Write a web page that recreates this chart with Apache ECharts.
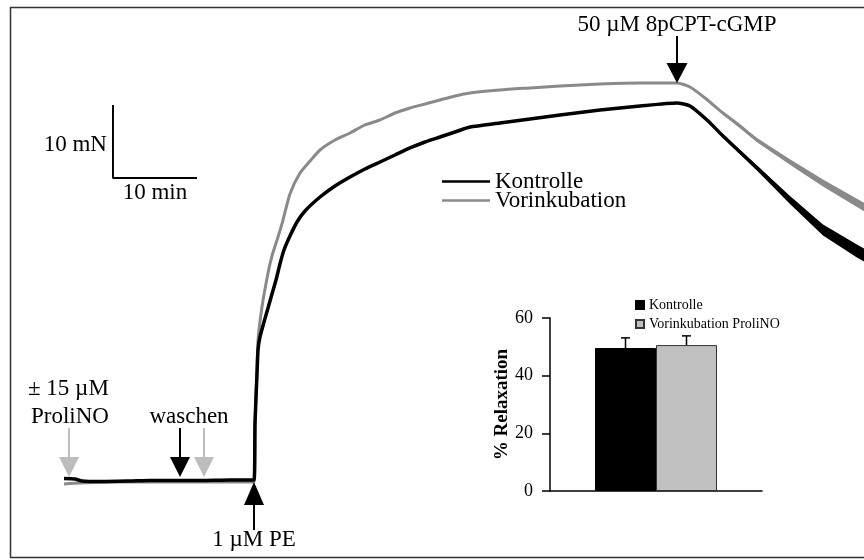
<!DOCTYPE html>
<html>
<head>
<meta charset="utf-8">
<script src="https://cdn.jsdelivr.net/npm/echarts@6/dist/echarts.min.js"></script>
<style>
  html, body { margin: 0; padding: 0; background: #fff; }
  #chart { width: 864px; height: 560px; }
</style>
</head>
<body>
<div id="chart"></div>
<script>
// Isometrische Kraftmessung: Kraft (mN) gegen Zeit (min)
const kontrolleTrace = [
  [0, 0.34], [1.31, 0.27], [2.14, 0], [4.29, -0.07], [7.86, 0], [10.24, 0.07],
  [16.19, 0.07], [19.76, 0.14], [22.62, 0.14], [22.74, 7.95], [22.98, 14.79],
  [23.10, 17.95], [23.33, 19.73], [23.81, 21.78], [24.29, 23.70], [24.76, 25.62],
  [25.24, 27.53], [25.71, 29.73], [26.19, 31.64], [26.90, 33.56], [27.74, 35.48],
  [28.69, 36.99], [30.48, 38.90],
  [32.26, 40.41], [34.05, 41.64], [35.83, 42.74], [37.62, 43.70], [39.40, 44.66],
  [41.19, 45.62], [42.98, 46.44], [44.76, 47.12], [46.55, 47.81], [48.33, 48.49],
  [51.90, 49.04], [55.48, 49.59], [59.05, 50.14], [63.81, 50.82], [68.57, 51.37],
  [72.98, 51.78], [74.52, 51.37], [76.55, 49.45], [78.45, 47.26], [80.48, 45.07],
  [82.50, 42.88], [84.40, 40.82], [86.43, 38.49], [88.45, 36.16], [90.36, 34.38],
  [92.38, 32.74], [94.40, 31.51], [95.24, 30.96]
];
const vorinkubationTrace = [
  [0, -0.41], [1.90, -0.27], [6.67, -0.14], [10.24, -0.14], [13.81, -0.14],
  [19.76, -0.14], [22.62, -0.14], [22.74, 7.95], [22.98, 15.21], [23.10, 19.32],
  [23.57, 23.84], [24.29, 28.49], [24.76, 30.82], [25.36, 33.01], [25.95, 35.21],
  [26.90, 39.32], [28.10, 42.19], [29.29, 43.84], [30.48, 45.34], [32.26, 46.71],
  [34.05, 47.67], [35.83, 48.77], [37.62, 49.45], [39.40, 50.41], [41.19, 51.10],
  [42.98, 51.64], [44.76, 52.19], [46.55, 52.74], [48.33, 53.15], [51.90, 53.56],
  [55.48, 53.84], [59.05, 54.11], [63.81, 54.38], [68.57, 54.52], [72.98, 54.52],
  [74.52, 53.97], [76.31, 52.47], [78.45, 50.41], [80.48, 48.63], [82.50, 46.71],
  [84.40, 45.21], [86.43, 43.70], [88.33, 42.19], [90.36, 40.82], [92.38, 39.45],
  [94.40, 38.08], [95.24, 37.53]
];
// Rauschbreite der Spuren nach cGMP-Gabe: [t, unten, oben]
const kontrolleBand = [
  [78.45, 47.06, 47.46], [82.50, 42.54, 43.22], [86.43, 37.94, 39.04],
  [90.36, 33.63, 35.13], [94.40, 30.62, 32.40], [95.24, 30.07, 31.85]
];
const vorinkubationBand = [
  [78.45, 50.21, 50.61], [82.50, 46.44, 46.98], [86.43, 43.32, 44.08],
  [90.36, 40.34, 41.30], [95.24, 36.95, 38.11]
];
// Maßstab: 10 min waagrecht, 10 mN senkrecht
const scaleBar = [[5.83, 51.5], [5.83, 41.5], [15.83, 41.5]];
// Zeitpunkte der Substanzgaben (min)
const eventTimes = { proliNO: 0.6, waschen: 13.81, proliNO2: 16.67, pe: 22.62, cgmp: 72.98 };

// Relaxation durch 8pCPT-cGMP (%)
const relaxCategories = [''];
const relaxKontrolle = [49.6];
const relaxKontrolleErr = [3.5];
const relaxProliNO = [50.6];
const relaxProliNOErr = [3.2];
const relaxTicks = { min: 0, max: 60, interval: 20 };

const FONT = 'Liberation Serif';
const BLACK = '#000';
const GREY_TRACE = '#8a8a8a';
const GREY_ARROW = '#bdbdbd';
const GREY_BAR = '#c0c0c0';
const BAR_W = 61;

function bandSeries(band, color) {
  return {
    type: 'custom', xAxisIndex: 0, yAxisIndex: 0, silent: true, z: 3,
    data: [[band[0][0], band[0][1]]],
    renderItem: function (params, api) {
      const upper = band.map(d => api.coord([d[0], d[2]]));
      const lower = band.map(d => api.coord([d[0], d[1]])).reverse();
      return { type: 'polygon', shape: { points: upper.concat(lower) }, style: { fill: color } };
    }
  };
}

const option = {
  animation: false,
  backgroundColor: '#fff',
  grid: [
    { left: 64, right: 0, top: 6.5, height: 547.5 },
    { left: 550, top: 318, width: 212, height: 173 }
  ],
  xAxis: [
    { type: 'value', gridIndex: 0, min: 0, max: 95.24, show: false },
    {
      type: 'category', gridIndex: 1, data: relaxCategories,
      axisLine: { lineStyle: { color: BLACK, width: 1.5 } },
      axisTick: { show: false }, axisLabel: { show: false }
    }
  ],
  yAxis: [
    { type: 'value', gridIndex: 0, min: -10, max: 65, show: false },
    {
      type: 'value', gridIndex: 1, min: relaxTicks.min, max: relaxTicks.max, interval: relaxTicks.interval,
      axisLine: { show: true, lineStyle: { color: BLACK, width: 1.5 } },
      axisTick: { show: true, length: 8, lineStyle: { color: BLACK, width: 1.5 } },
      splitLine: { show: false },
      axisLabel: { color: BLACK, fontFamily: FONT, fontSize: 18, margin: 17 },
      name: '% Relaxation', nameLocation: 'middle', nameRotate: 90, nameGap: 28,
      nameTextStyle: { color: BLACK, fontFamily: FONT, fontSize: 19, fontWeight: 'bold' }
    }
  ],
  legend: [
    {
      data: ['Kontrolle', 'Vorinkubation'],
      orient: 'vertical', left: 437, top: 165, itemGap: -4,
      icon: 'rect', itemWidth: 48, itemHeight: 2.5, selectedMode: false,
      textStyle: { color: BLACK, fontFamily: FONT, fontSize: 23 }
    },
    {
      data: ['Kontrolle (Relaxation)', 'Vorinkubation ProliNO'],
      orient: 'vertical', left: 630, top: 293, itemGap: 5,
      icon: 'rect', itemWidth: 8, itemHeight: 8, selectedMode: false,
      formatter: n => n.replace(' (Relaxation)', ''),
      textStyle: { color: BLACK, fontFamily: FONT, fontSize: 14 }
    }
  ],
  series: [
    bandSeries(vorinkubationBand, GREY_TRACE),
    bandSeries(kontrolleBand, BLACK),
    {
      name: 'Vorinkubation', type: 'line', xAxisIndex: 0, yAxisIndex: 0,
      data: vorinkubationTrace, showSymbol: false, symbol: 'none', z: 2,
      smooth: 0.2,
      lineStyle: { color: GREY_TRACE, width: 3 }, itemStyle: { color: GREY_TRACE }
    },
    {
      name: 'Kontrolle', type: 'line', xAxisIndex: 0, yAxisIndex: 0,
      data: kontrolleTrace, showSymbol: false, symbol: 'none', z: 4,
      smooth: 0.2,
      lineStyle: { color: BLACK, width: 3.5 }, itemStyle: { color: BLACK }
    },
    {
      name: 'Maßstab', type: 'line', xAxisIndex: 0, yAxisIndex: 0,
      data: scaleBar, showSymbol: false, symbol: 'none', silent: true,
      lineStyle: { color: BLACK, width: 2 }
    },
    {
      name: 'Kontrolle (Relaxation)', type: 'bar', xAxisIndex: 1, yAxisIndex: 1,
      data: relaxKontrolle, barWidth: BAR_W, barGap: '0%',
      itemStyle: { color: BLACK, borderColor: BLACK, borderWidth: 1 }
    },
    {
      name: 'Vorinkubation ProliNO', type: 'bar', xAxisIndex: 1, yAxisIndex: 1,
      data: relaxProliNO, barWidth: BAR_W, barGap: '0%',
      itemStyle: { color: GREY_BAR, borderColor: '#333', borderWidth: 1 }
    },
    {
      type: 'custom', xAxisIndex: 1, yAxisIndex: 1, silent: true, z: 5,
      data: [
        [0, relaxKontrolle[0], relaxKontrolleErr[0], -1],
        [0, relaxProliNO[0], relaxProliNOErr[0], 1]
      ],
      renderItem: function (params, api) {
        const base = api.coord([api.value(0), api.value(1)]);
        const top = api.coord([api.value(0), api.value(1) + api.value(2)]);
        const x = base[0] + api.value(3) * BAR_W / 2;
        const st = { stroke: BLACK, lineWidth: 1.5 };
        return {
          type: 'group', children: [
            { type: 'line', shape: { x1: x, y1: base[1], x2: x, y2: top[1] }, style: st },
            { type: 'line', shape: { x1: x - 4.5, y1: top[1], x2: x + 4.5, y2: top[1] }, style: st }
          ]
        };
      }
    }
  ]
};

const chart = echarts.init(document.getElementById('chart'));
chart.setOption(option);

const px = (t, v) => chart.convertToPixel({ xAxisIndex: 0, yAxisIndex: 0 }, [t, v]);

function arrow(x, tipY, dir, shaftLen, headLen, halfW, color) {
  // dir = 1: Pfeil nach unten, dir = -1: Pfeil nach oben
  const headBase = tipY - dir * headLen;
  return [
    { type: 'line', z: 10, shape: { x1: x, y1: tipY - dir * shaftLen, x2: x, y2: headBase }, style: { stroke: color, lineWidth: 2 } },
    { type: 'polygon', z: 10, shape: { points: [[x - halfW, headBase], [x + halfW, headBase], [x, tipY]] }, style: { fill: color } }
  ];
}
function label(text, x, y, align) {
  return {
    type: 'text', x: x, y: y, z: 10,
    style: { text: text, fill: BLACK, fontFamily: FONT, fontSize: 23, align: align || 'center', verticalAlign: 'middle' }
  };
}

const aProli = px(eventTimes.proliNO, 0.55);
const aWasch = px(eventTimes.waschen, 0.55);
const aProli2 = px(eventTimes.proliNO2, 0.55);
const aPE = px(eventTimes.pe, -0.14);
const aCGMP = px(eventTimes.cgmp, vorinkubationTrace[34][1]);
const corner = px(scaleBar[1][0], scaleBar[1][1]);
const barTop = px(scaleBar[0][0], scaleBar[0][1]);
const barEnd = px(scaleBar[2][0], scaleBar[2][1]);

const elements = [
  { type: 'rect', z: 0, shape: { x: 10.5, y: 7.5, width: 870, height: 550 }, style: { fill: 'none', stroke: '#333', lineWidth: 1.5 } }
]
  .concat(arrow(aProli[0], aProli[1], 1, 49, 20, 10, GREY_ARROW))
  .concat(arrow(aWasch[0], aWasch[1], 1, 49, 20, 10, BLACK))
  .concat(arrow(aProli2[0], aProli2[1], 1, 49, 20, 10, GREY_ARROW))
  .concat(arrow(aPE[0], aPE[1], -1, 48, 23, 10, BLACK))
  .concat(arrow(aCGMP[0], aCGMP[1], 1, 47, 20, 10.5, BLACK))
  .concat([
    label('50 \u00b5M 8pCPT-cGMP', aCGMP[0], 25),
    label('1 \u00b5M PE', aPE[0], 540),
    label('waschen', (aWasch[0] + aProli2[0]) / 2 - 3, 417),
    label('\u00b1 15 \u00b5M', 28, 389, 'left'),
    label('ProliNO', 31, 417, 'left'),
    label('10 mN', corner[0] - 6, (barTop[1] + corner[1]) / 2 + 3, 'right'),
    label('10 min', (corner[0] + barEnd[0]) / 2, corner[1] + 15)
  ]);

chart.setOption({ graphic: { elements: elements } });
</script>
</body>
</html>
